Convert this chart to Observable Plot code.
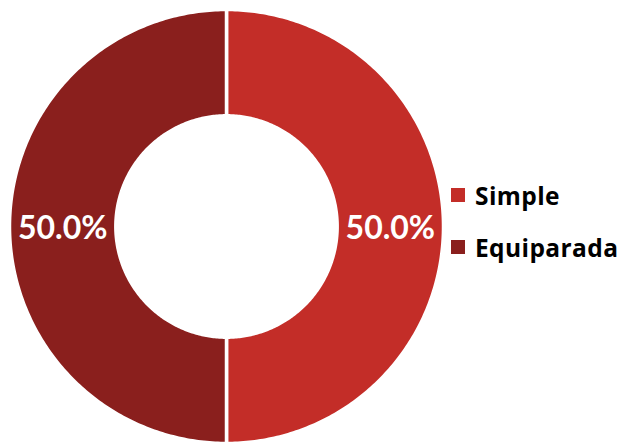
<!DOCTYPE html>
<html>
<head>
<meta charset="utf-8">
<script src="https://cdn.jsdelivr.net/npm/d3@7"></script>
<script src="https://cdn.jsdelivr.net/npm/@observablehq/plot@0.6"></script>
<style>
  html, body { margin: 0; padding: 0; background: #fff; }
  #wrap { position: relative; width: 626px; height: 443px; }
  #legend { position: absolute; left: 451px; top: 182px; font-family: "Open Sans", sans-serif; font-weight: bold; font-size: 24.5px; letter-spacing: 0.4px; color: #000; }
  .item { display: flex; align-items: center; height: 26px; margin-bottom: 26px; }
  .sw { width: 14px; height: 14px; margin-right: 10px; }
</style>
</head>
<body>
<div id="wrap"><div id="legend"></div></div>
<script>
const categories = ["Simple", "Equiparada"];
const values = [50, 50];
const colors = ["#C32D28", "#8A1F1D"];
const labels = ["50.0%", "50.0%"];

const innerRatio = 0.51;
const pie = d3.pie().sort(null).value(d => d.value);
const arcs = pie(categories.map((c, i) => ({category: c, value: values[i]})));

// polygon points for each slice (angles clockwise from 12 o'clock)
const pts = [];
arcs.forEach(a => {
  const n = 240;
  for (let k = 0; k <= n; k++) {
    const t = a.startAngle + (a.endAngle - a.startAngle) * k / n;
    pts.push({category: a.data.category, x: Math.sin(t), y: Math.cos(t)});
  }
  for (let k = n; k >= 0; k--) {
    const t = a.startAngle + (a.endAngle - a.startAngle) * k / n;
    pts.push({category: a.data.category, x: innerRatio * Math.sin(t), y: innerRatio * Math.cos(t)});
  }
});
const labelData = arcs.map((a, i) => {
  const m = (a.startAngle + a.endAngle) / 2, r = (1 + innerRatio) / 2;
  return {label: labels[i], x: r * Math.sin(m), y: r * Math.cos(m)};
});

const cx = 226, cy = 226, R = 217;
const chart = Plot.plot({
  width: 626,
  height: 443,
  margin: 0,
  x: {domain: [-1, 1], range: [cx - R, cx + R], axis: null},
  y: {domain: [-1, 1], range: [cy + R, cy - R], axis: null},
  color: {domain: categories, range: colors},
  marks: [
    Plot.line(pts, {x: "x", y: "y", z: "category", fill: "category", stroke: "white", strokeWidth: 3.5, curve: "linear-closed"}),
    Plot.text(labelData, {x: "x", y: "y", text: "label", fill: "white", fontSize: 32, fontWeight: "bold", fontFamily: "Lato, sans-serif", dy: 2})
  ]
});
document.getElementById("wrap").prepend(chart);

const legend = document.getElementById("legend");
categories.forEach((c, i) => {
  const item = document.createElement("div");
  item.className = "item";
  const sw = document.createElement("span");
  sw.className = "sw";
  sw.style.background = colors[i];
  const t = document.createElement("span");
  t.textContent = c;
  item.append(sw, t);
  legend.append(item);
});
</script>
</body>
</html>
